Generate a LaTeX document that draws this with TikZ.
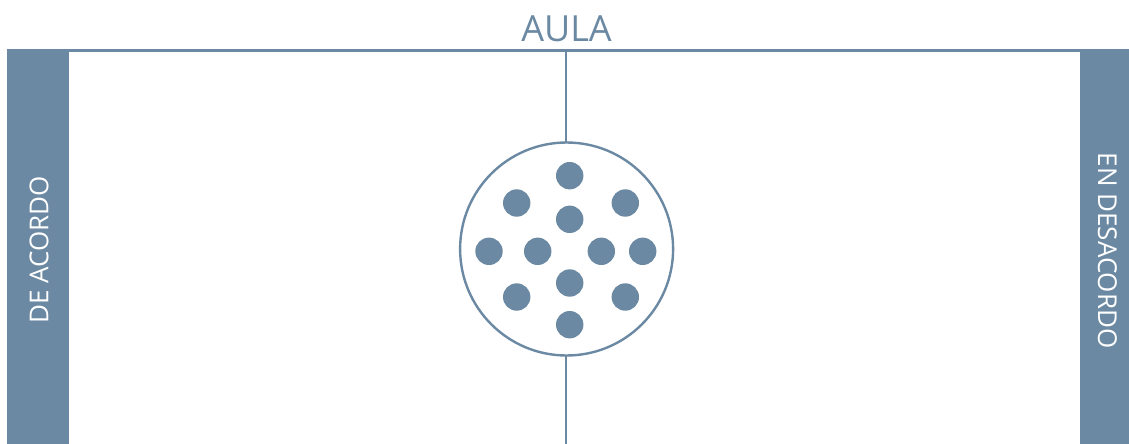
\documentclass[tikz,border=0pt]{standalone}
\usepackage{fontspec}
\setmainfont{Open Sans}
\definecolor{slate}{RGB}{107,137,163}
\begin{document}
\begin{tikzpicture}[x=1pt,y=-1pt,
  bar/.style={fill=slate, draw=none},
  dot/.style={circle, fill=slate, draw=none, minimum size=27.4pt, inner sep=0pt},
  ring/.style={circle, draw=slate, line width=2.4pt, fill=white, minimum size=213pt, inner sep=0pt},
  rule/.style={draw=slate, line width=2.4pt},
  sidelabel/.style={text=white, font=\fontsize{26}{26}\selectfont, inner sep=0pt}]
\useasboundingbox (0,0) rectangle (1129,444);
\fill[bar] (7,50) rectangle (69,444);
\fill[bar] (1080,50) rectangle (1129,444);
\coordinate (tl) at (7,50.8);
\coordinate (tr) at (1129,50.8);
\draw[rule, line width=2.8pt] (tl) -- (tr);
\coordinate (vt) at (566,50.8);
\coordinate (vb) at (566,444);
\draw[rule] (vt) -- (vb);
\node[ring] (c) at (566.6,249) {};
\node[dot] (d1) at (569.7,175.7) {};
\node[dot] (d2) at (516.7,203) {};
\node[dot] (d3) at (625.3,203) {};
\node[dot] (d4) at (569.7,219.3) {};
\node[dot] (d5) at (489,251.3) {};
\node[dot] (d6) at (537.7,251.3) {};
\node[dot] (d7) at (601.3,251.3) {};
\node[dot] (d8) at (642.7,251.3) {};
\node[dot] (d9) at (569.7,283) {};
\node[dot] (d10) at (516.7,297) {};
\node[dot] (d11) at (625.3,297) {};
\node[dot] (d12) at (569.7,324.7) {};
\node[anchor=base, text=slate, font=\fontsize{36}{36}\selectfont, inner sep=0pt] (aula) at (566.5,42) {AULA};
\node[sidelabel, rotate=90] (acordo) at (39,250) {DE ACORDO};
\node[sidelabel, rotate=-90] (desacordo) at (1107.5,250.5) {EN DESACORDO};
\end{tikzpicture}
\end{document}
